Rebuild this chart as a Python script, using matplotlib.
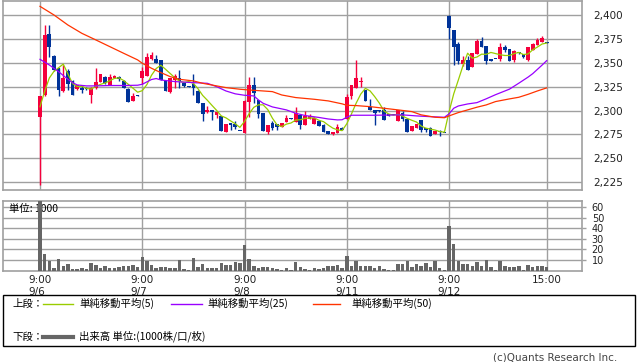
import matplotlib
matplotlib.use("Agg")
import matplotlib.pyplot as plt
from matplotlib.patches import Rectangle
from matplotlib.lines import Line2D

plt.rcParams["font.family"] = ["DejaVu Sans", "Noto Sans CJK JP"]

# =========================================================
# DATA (15-minute candles, 22 slots per trading day)
# =========================================================
DAY_SLOTS = [0, 22, 44, 66, 88]
DAY_LABELS = ["9/6", "9/7", "9/8", "9/11", "9/12"]
CLOSE_SLOT = 109

OPENS = [
    2293, 2316, 2380, 2357, 2344, 2320, 2341, 2331, 2323, 2324, 2324, 2316, 2324, 2330, 2335, 2327, 2334, 2335, 2331, 2323, 2310, 2316,
    2334, 2336, 2354, 2354, 2353, 2331, 2319, 2332, 2334, 2329, 2326, 2328, 2320, 2308, 2298, 2301, 2295, 2294, 2278, 2287, 2286, 2279,
    2277, 2309, 2327, 2311, 2297, 2278, 2287, 2286, 2283, 2288, 2292, 2288, 2295, 2285, 2291, 2286, 2289, 2285, 2279, 2275, 2277, 2282,
    2291, 2315, 2324, 2330, 2322, 2304, 2301, 2300, 2301, 2296, 2295, 2289, 2297, 2291, 2279, 2282, 2290, 2282, 2282, 2275, 2279, 2277,
    2399, 2384, 2370, 2349, 2353, 2346, 2359, 2373, 2368, 2354, 2354, 2354, 2366, 2364, 2353, 2360, 2359, 2353, 2363, 2369, 2372, 2372,
]
HIGHS = [
    2315, 2390, 2390, 2358, 2345, 2348, 2343, 2332, 2327, 2327, 2325, 2325, 2344, 2338, 2336, 2338, 2337, 2336, 2332, 2324, 2318, 2316,
    2346, 2360, 2361, 2358, 2353, 2331, 2334, 2338, 2342, 2330, 2326, 2338, 2321, 2308, 2305, 2301, 2299, 2294, 2286, 2287, 2289, 2279,
    2311, 2335, 2335, 2311, 2297, 2285, 2289, 2286, 2287, 2295, 2292, 2304, 2296, 2300, 2296, 2293, 2290, 2286, 2279, 2278, 2286, 2283,
    2317, 2327, 2353, 2335, 2322, 2312, 2301, 2301, 2304, 2296, 2295, 2301, 2300, 2291, 2284, 2286, 2290, 2282, 2283, 2279, 2280, 2277,
    2400, 2384, 2372, 2357, 2357, 2360, 2375, 2377, 2368, 2354, 2354, 2371, 2369, 2364, 2363, 2361, 2359, 2366, 2371, 2376, 2378, 2372,
]
LOWS = [
    2222, 2315, 2356, 2341, 2315, 2319, 2322, 2316, 2322, 2318, 2322, 2308, 2323, 2330, 2328, 2327, 2334, 2331, 2324, 2309, 2310, 2315,
    2328, 2336, 2353, 2350, 2332, 2320, 2318, 2324, 2324, 2325, 2325, 2316, 2308, 2289, 2297, 2290, 2292, 2279, 2278, 2280, 2281, 2279,
    2277, 2293, 2308, 2292, 2279, 2276, 2280, 2280, 2283, 2288, 2291, 2288, 2281, 2285, 2291, 2286, 2284, 2278, 2275, 2274, 2277, 2280,
    2291, 2312, 2324, 2325, 2310, 2301, 2285, 2299, 2290, 2294, 2295, 2289, 2289, 2278, 2279, 2282, 2278, 2278, 2273, 2275, 2273, 2277,
    2375, 2348, 2349, 2347, 2342, 2346, 2359, 2367, 2349, 2352, 2354, 2352, 2361, 2352, 2351, 2359, 2355, 2352, 2363, 2369, 2372, 2371,
]
CLOSES = [
    2315, 2379, 2367, 2342, 2321, 2334, 2328, 2316, 2327, 2322, 2323, 2324, 2330, 2338, 2329, 2335, 2336, 2333, 2324, 2309, 2315, 2315,
    2341, 2356, 2358, 2350, 2332, 2320, 2334, 2336, 2331, 2326, 2325, 2324, 2308, 2296, 2301, 2298, 2298, 2279, 2286, 2285, 2283, 2279,
    2310, 2327, 2318, 2296, 2279, 2285, 2282, 2283, 2287, 2292, 2291, 2297, 2285, 2294, 2294, 2292, 2284, 2278, 2276, 2278, 2283, 2280,
    2314, 2327, 2334, 2331, 2310, 2301, 2297, 2300, 2290, 2294, 2295, 2301, 2291, 2278, 2284, 2286, 2280, 2280, 2273, 2279, 2278, 2277,
    2386, 2367, 2352, 2353, 2342, 2360, 2373, 2367, 2352, 2352, 2354, 2367, 2363, 2352, 2362, 2360, 2356, 2366, 2370, 2374, 2376, 2371,
]

MA5 = [
    2304.0, 2320.0, 2334.0, 2341.0, 2344.8, 2348.6, 2338.4, 2328.2, 2325.2, 2325.4, 2323.2, 2322.4, 2325.2, 2327.4, 2328.8, 2331.2, 2333.6, 2334.2, 2331.4, 2327.4, 2323.4, 2319.2,
    2320.8, 2327.2, 2337.0, 2344.0, 2347.4, 2343.2, 2338.8, 2334.4, 2330.6, 2329.4, 2330.4, 2328.4, 2322.8, 2315.8, 2310.8, 2305.4, 2300.2, 2294.4, 2292.4, 2289.2, 2286.2, 2282.4,
    2288.6, 2296.8, 2303.4, 2306.0, 2306.0, 2301.0, 2292.0, 2285.0, 2283.2, 2285.8, 2287.0, 2290.0, 2290.4, 2291.8, 2292.2, 2292.4, 2289.8, 2288.4, 2284.8, 2281.6, 2279.8, 2279.0,
    2286.2, 2296.4, 2307.6, 2317.2, 2323.2, 2320.6, 2314.6, 2307.8, 2299.6, 2296.4, 2295.2, 2296.0, 2294.2, 2291.8, 2289.8, 2288.0, 2283.8, 2281.6, 2280.6, 2279.6, 2278.0, 2277.4,
    2298.6, 2317.4, 2332.0, 2347.0, 2360.0, 2354.8, 2356.0, 2359.0, 2358.8, 2360.8, 2359.6, 2358.4, 2357.6, 2357.6, 2359.6, 2360.8, 2358.6, 2359.2, 2363.6, 2366.4, 2369.6, 2370.6,
]

MA25_SLOTS = [0, 2, 4, 6, 7, 8, 10, 12, 15, 18, 21, 22, 24, 25, 26, 29, 33, 36, 38, 40, 42, 44, 46, 47, 48, 50, 53, 55, 57,
              60, 62, 64, 65, 66, 67, 72, 78, 81, 84, 87, 88, 89, 90, 92, 94, 96, 98, 101, 103, 105, 106, 108, 109]
MA25 = [2353.6, 2347.7, 2340.7, 2332.7, 2329.2, 2326.8, 2325.8, 2325.8, 2326.2, 2326.2, 2326.5, 2327.5, 2332.5, 2333.5,
        2332.0, 2330.3, 2329.2, 2328.5, 2325.0, 2320.5, 2317.5, 2316.0, 2315.3, 2311.1, 2307.6, 2303.8, 2300.7, 2297.2,
        2294.8, 2292.8, 2291.2, 2290.2, 2290.4, 2293.0, 2295.1, 2295.1, 2295.5, 2294.4, 2293.6, 2293.0, 2296.5, 2302.4,
        2304.8, 2306.9, 2308.3, 2312.3, 2316.6, 2322.4, 2328.6, 2335.0, 2338.6, 2347.5, 2352.2]

MA50_SLOTS = [0, 3, 6, 9, 12, 15, 18, 21, 22, 24, 26, 28, 30, 33, 35, 38, 40, 43, 45, 48, 50, 52, 55, 59, 62, 65, 66,
              68, 71, 74, 77, 80, 82, 85, 87, 88, 90, 92, 94, 96, 98, 101, 103, 105, 107, 109]
MA50 = [2409.0, 2400.0, 2389.5, 2380.8, 2373.9, 2366.9, 2359.9, 2353.0, 2349.5, 2344.2, 2339.7, 2335.5, 2332.7,
        2331.0, 2328.5, 2325.8, 2324.0, 2322.3, 2321.5, 2320.5, 2319.8, 2316.3, 2313.6, 2311.8, 2310.1, 2307.0,
        2305.5, 2305.2, 2304.1, 2302.4, 2300.7, 2298.9, 2295.5, 2293.0, 2292.5, 2294.4, 2297.9, 2300.7, 2303.5,
        2305.9, 2309.4, 2312.2, 2313.9, 2317.0, 2320.5, 2323.7]

VOLUME = [
    68, 16, 8.7, 2.2, 10.6, 3.8, 5.8, 1.3, 1.3, 2.2, 1.0, 6.7, 4.8, 1.9, 3.8, 1.9, 2.2, 3.2, 4.5, 3.8, 4.8, 2.9,
    12.5, 8.7, 4.8, 2.2, 3.5, 2.9, 2.2, 2.2, 9.6, 1.3, 0.5, 11.5, 3.2, 5.8, 1.9, 2.2, 2.5, 6.7, 4.8, 5.1, 7.7, 6.7,
    24, 10.9, 3.8, 2.2, 2.9, 3.2, 2.2, 1.3, 0.5, 2.2, 0.5, 7.7, 3.2, 1.6, 0.6, 1.9, 1.3, 2.2, 3.8, 4.2, 5.4, 2.6,
    14.1, 3.8, 8.7, 3.8, 4.2, 4.5, 2.6, 3.8, 1.3, 0.3, 0.6, 5.8, 5.8, 8.7, 2.9, 6.1, 4.5, 6.7, 2.9, 8.7, 1.9, 0.5,
    42.3, 25.6, 8.7, 6.4, 6.4, 4.5, 7.7, 4.5, 9.6, 2.9, 0.3, 9.3, 4.5, 3.2, 3.2, 3.8, 0.3, 4.8, 2.9, 3.8, 3.8, 2.9,
]

PRICE_TICKS = [2225, 2250, 2275, 2300, 2325, 2350, 2375, 2400]
VOLUME_TICKS = [10, 20, 30, 40, 50, 60]

# =========================================================
# STYLE
# =========================================================
W, H = 638, 362
RED = "#f5003c"
BLUE = "#003399"
GREEN = "#99cc00"
PURPLE = "#9900ff"
ORANGE = "#ff3300"
GRID = "#a0a0a0"
VOL = "#666666"
CJK = ["Noto Sans CJK JP", "DejaVu Sans"]


def px_axes(fig, left, top, right, bottom):
    return fig.add_axes([left / W, 1 - bottom / H, (right - left) / W, (bottom - top) / H])


def style_frame(ax):
    for s in ax.spines.values():
        s.set_color(GRID)
        s.set_linewidth(1.2)
    ax.set_axisbelow(True)
    ax.grid(True, color=GRID, linewidth=1.0)


fig = plt.figure(figsize=(W / 100, H / 100), dpi=100)

# ---------------------------------------------------------
# Price panel
# ---------------------------------------------------------
ax = px_axes(fig, 3, 1, 582, 190)
style_frame(ax)
slots = list(range(len(CLOSES)))
colors = [RED if c > o else BLUE for o, c in zip(OPENS, CLOSES)]
ax.vlines(slots, LOWS, HIGHS, colors=colors, linewidth=1.0, zorder=2)
bodies = [max(abs(c - o), 0.9) for o, c in zip(OPENS, CLOSES)]
bottoms = [min(o, c) for o, c in zip(OPENS, CLOSES)]
ax.bar(slots, bodies, bottom=bottoms, width=0.8, color=colors, linewidth=0, zorder=3)

ax.plot(slots, MA5, color=GREEN, linewidth=0.9, zorder=4)
ax.plot(MA25_SLOTS, MA25, color=PURPLE, linewidth=0.9, zorder=4)
ax.plot(MA50_SLOTS, MA50, color=ORANGE, linewidth=0.9, zorder=4)

ax.set_xlim(-7.96, 116.6)
ax.set_ylim(2216.9, 2414.6)
ax.set_xticks(DAY_SLOTS + [CLOSE_SLOT])
ax.set_yticks(PRICE_TICKS)
ax.set_yticklabels([f"{v:,}" for v in PRICE_TICKS])
ax.yaxis.tick_right()
ax.tick_params(axis="y", length=0, pad=8, labelsize=7.5, colors="#222222")
ax.tick_params(axis="x", length=0, labelbottom=False)

# ---------------------------------------------------------
# Volume panel
# ---------------------------------------------------------
axv = px_axes(fig, 3, 201, 582, 270.5)
style_frame(axv)
axv.bar(slots, VOLUME, width=0.74, color=VOL, linewidth=0, zorder=3)
axv.set_xlim(-7.96, 116.6)
axv.set_ylim(0, 66)
axv.set_yticks(VOLUME_TICKS)
axv.yaxis.tick_right()
axv.tick_params(axis="y", length=3, width=1, color=GRID, pad=4, labelsize=7, labelcolor="#222222")
axv.set_xticks(DAY_SLOTS + [CLOSE_SLOT])
axv.set_xticklabels([f"9:00\n{d}" for d in DAY_LABELS] + ["15:00"])
axv.tick_params(axis="x", length=0, pad=3, labelsize=7.5, labelcolor="#222222")
for t in axv.get_xticklabels():
    t.set_multialignment("left")
    t.set_linespacing(1.25)
axv.text(9 / W, 1 - 208.5 / H, "単位: 1000", transform=fig.transFigure, fontsize=7.5,
         family=CJK, va="center", ha="left", zorder=1)

# ---------------------------------------------------------
# Legend box
# ---------------------------------------------------------
fig.patches.append(Rectangle((3 / W, 1 - 345.5 / H), 632 / W, 50.5 / H, transform=fig.transFigure,
                             fill=False, edgecolor="black", linewidth=1.0))

row1 = 1 - 303.5 / H
row2 = 1 - 336.5 / H
fig.text(12 / W, row1, "上段：", fontsize=7.5, family=CJK, va="center")
fig.text(12 / W, row2, "下段：", fontsize=7.5, family=CJK, va="center")

legend_items = [
    (43, 73, 79, GREEN, "単純移動平均(5)"),
    (171, 202, 207, PURPLE, "単純移動平均(25)"),
    (313, 340, 351, ORANGE, "単純移動平均(50)"),
]
for x0, x1, xt, col, label in legend_items:
    fig.add_artist(Line2D([x0 / W, x1 / W], [row1, row1], transform=fig.transFigure, color=col, linewidth=1.0))
    fig.text(xt / W, row1, label, fontsize=7.5, family=CJK, va="center")

fig.add_artist(Line2D([43 / W, 73 / W], [row2, row2], transform=fig.transFigure, color=VOL, linewidth=3.0))
fig.text(79 / W, row2, "出来高 単位:(1000株/口/枚)", fontsize=7.5, family=CJK, va="center")

fig.text(617 / W, 1 - 357 / H, "(c)Quants Research Inc.", fontsize=7.5, color="#444444",
         ha="right", va="center")

fig.savefig("out.png", dpi=100)
